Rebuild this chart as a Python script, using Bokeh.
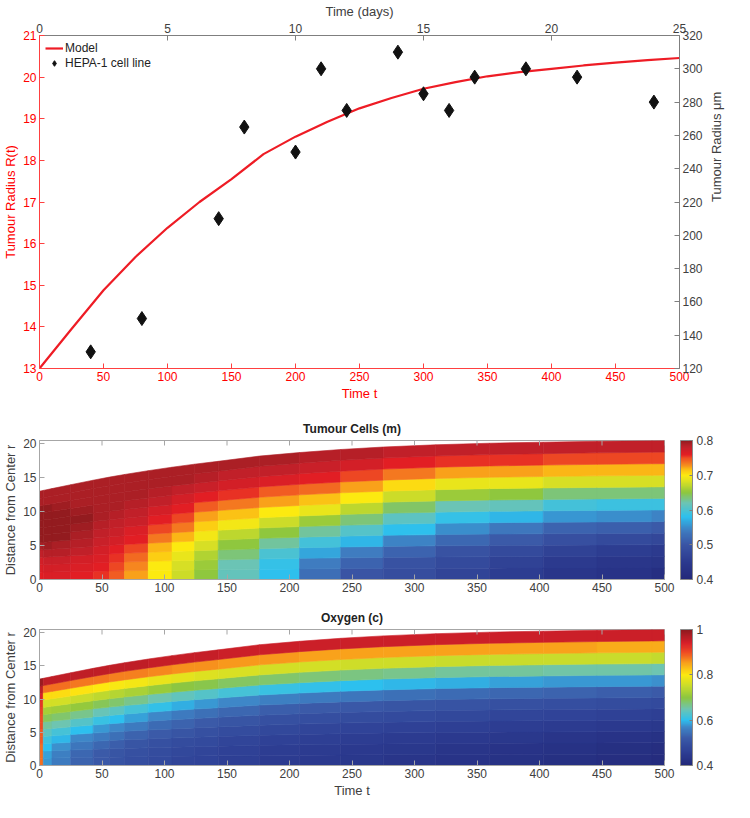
import math
import numpy as np
from bokeh.plotting import figure
from bokeh.models import (Range1d, LinearAxis, FixedTicker, Legend, LegendItem, ColorBar,
                          LinearColorMapper, ColumnDataSource, CustomJSTickFormatter)
from bokeh.embed import file_html
from bokeh.resources import INLINE

FONT = "Liberation Sans"

# ---------------- data ----------------
t_model = [0, 25, 50, 75, 100, 125, 150, 175, 200, 225, 250, 275, 300, 325, 350, 375, 400, 425, 450, 475, 500]
R_model = [13.0, 13.95, 14.88, 15.68, 16.38, 17.0, 17.55, 18.15, 18.57, 18.93, 19.25, 19.5, 19.72,
           19.88, 20.02, 20.12, 20.2, 20.28, 20.35, 20.41, 20.46]

exp_days = [2, 4, 7, 8, 10, 11, 12, 14, 15, 16, 17, 19, 21, 24]
exp_um = [130, 150, 210, 265, 250, 300, 275, 310, 285, 275, 295, 300, 295, 280]

t_ticks = [0, 50, 100, 150, 200, 250, 300, 350, 400, 450, 500]
R_ticks = [13, 14, 15, 16, 17, 18, 19, 20, 21]
day_ticks = [0, 5, 10, 15, 20, 25]
um_ticks = [120, 140, 160, 180, 200, 220, 240, 260, 280, 300, 320]
r_ticks = [0, 5, 10, 15, 20]
m_ticks = [0.4, 0.5, 0.6, 0.7, 0.8]
c_ticks = [0.4, 0.6, 0.8, 1.0]

# time columns of the solution grid
t_edges = [0, 3, 10, 25, 43, 56, 68, 87, 106, 124, 143, 176, 208, 241, 275, 317, 360, 403, 446, 490, 500]

# tumour cell fraction m, each column from centre (r=0) to edge (r=R)
m_cols = [
    [0.76, 0.765, 0.77, 0.78, 0.79, 0.80, 0.80, 0.80, 0.80, 0.80, 0.79, 0.79],
    [0.765, 0.77, 0.775, 0.785, 0.795, 0.80, 0.80, 0.80, 0.80, 0.80, 0.79, 0.79],
    [0.765, 0.77, 0.775, 0.785, 0.79, 0.80, 0.80, 0.80, 0.80, 0.795, 0.79, 0.79],
    [0.76, 0.765, 0.77, 0.78, 0.785, 0.79, 0.795, 0.80, 0.795, 0.79, 0.79, 0.79],
    [0.755, 0.76, 0.765, 0.77, 0.775, 0.78, 0.785, 0.79, 0.79, 0.79, 0.79, 0.79],
    [0.745, 0.75, 0.755, 0.76, 0.77, 0.775, 0.78, 0.785, 0.79, 0.79, 0.79, 0.79],
    [0.725, 0.73, 0.74, 0.75, 0.76, 0.765, 0.775, 0.78, 0.785, 0.79, 0.79, 0.79],
    [0.70, 0.70, 0.71, 0.72, 0.735, 0.75, 0.76, 0.77, 0.78, 0.785, 0.79, 0.79],
    [0.675, 0.68, 0.69, 0.70, 0.72, 0.735, 0.75, 0.76, 0.77, 0.78, 0.79, 0.79],
    [0.65, 0.655, 0.665, 0.68, 0.695, 0.71, 0.725, 0.745, 0.76, 0.775, 0.785, 0.79],
    [0.615, 0.62, 0.635, 0.65, 0.67, 0.695, 0.715, 0.735, 0.755, 0.77, 0.78, 0.79],
    [0.58, 0.585, 0.60, 0.625, 0.65, 0.675, 0.70, 0.725, 0.745, 0.765, 0.78, 0.79],
    [0.525, 0.54, 0.565, 0.595, 0.625, 0.655, 0.69, 0.715, 0.74, 0.76, 0.775, 0.785],
    [0.50, 0.515, 0.54, 0.575, 0.605, 0.635, 0.67, 0.70, 0.725, 0.75, 0.77, 0.785],
    [0.485, 0.495, 0.515, 0.545, 0.58, 0.61, 0.64, 0.675, 0.705, 0.735, 0.76, 0.78],
    [0.47, 0.48, 0.495, 0.52, 0.55, 0.585, 0.62, 0.655, 0.69, 0.725, 0.755, 0.78],
    [0.455, 0.465, 0.48, 0.505, 0.535, 0.575, 0.615, 0.65, 0.69, 0.725, 0.755, 0.78],
    [0.44, 0.45, 0.465, 0.49, 0.515, 0.555, 0.595, 0.635, 0.68, 0.72, 0.75, 0.78],
    [0.43, 0.44, 0.455, 0.48, 0.51, 0.55, 0.59, 0.635, 0.68, 0.72, 0.75, 0.78],
    [0.42, 0.435, 0.45, 0.475, 0.505, 0.545, 0.59, 0.635, 0.68, 0.72, 0.75, 0.78],
]

# oxygen concentration c, each column from centre (r=0) to edge (r=R)
c_cols = [
    [0.88, 0.88, 0.88, 0.89, 0.89, 0.90, 0.90, 0.91, 0.92, 0.94, 0.96, 0.99],
    [0.58, 0.585, 0.60, 0.615, 0.635, 0.66, 0.69, 0.72, 0.76, 0.81, 0.88, 0.96],
    [0.555, 0.56, 0.575, 0.595, 0.62, 0.65, 0.68, 0.715, 0.76, 0.81, 0.88, 0.96],
    [0.53, 0.535, 0.55, 0.57, 0.60, 0.63, 0.665, 0.705, 0.75, 0.805, 0.875, 0.96],
    [0.515, 0.52, 0.535, 0.555, 0.58, 0.61, 0.645, 0.69, 0.74, 0.80, 0.875, 0.96],
    [0.505, 0.51, 0.525, 0.545, 0.57, 0.60, 0.635, 0.68, 0.735, 0.795, 0.87, 0.96],
    [0.495, 0.50, 0.51, 0.53, 0.555, 0.585, 0.62, 0.665, 0.725, 0.79, 0.87, 0.96],
    [0.485, 0.49, 0.50, 0.52, 0.54, 0.57, 0.605, 0.65, 0.71, 0.78, 0.865, 0.955],
    [0.475, 0.48, 0.49, 0.51, 0.53, 0.555, 0.59, 0.64, 0.70, 0.775, 0.86, 0.955],
    [0.47, 0.475, 0.485, 0.50, 0.52, 0.545, 0.58, 0.63, 0.695, 0.77, 0.86, 0.955],
    [0.46, 0.465, 0.475, 0.49, 0.51, 0.535, 0.57, 0.62, 0.685, 0.765, 0.855, 0.95],
    [0.45, 0.455, 0.465, 0.48, 0.50, 0.525, 0.56, 0.61, 0.68, 0.76, 0.855, 0.95],
    [0.445, 0.45, 0.46, 0.475, 0.495, 0.52, 0.555, 0.605, 0.675, 0.76, 0.85, 0.95],
    [0.44, 0.445, 0.455, 0.47, 0.49, 0.515, 0.55, 0.60, 0.67, 0.755, 0.85, 0.95],
    [0.435, 0.44, 0.45, 0.465, 0.485, 0.51, 0.545, 0.595, 0.665, 0.755, 0.85, 0.95],
    [0.43, 0.435, 0.445, 0.46, 0.48, 0.505, 0.54, 0.59, 0.66, 0.75, 0.85, 0.95],
    [0.425, 0.43, 0.44, 0.455, 0.475, 0.50, 0.535, 0.585, 0.66, 0.75, 0.85, 0.95],
    [0.42, 0.425, 0.435, 0.45, 0.47, 0.495, 0.53, 0.58, 0.655, 0.75, 0.85, 0.95],
    [0.415, 0.42, 0.43, 0.445, 0.465, 0.49, 0.525, 0.58, 0.655, 0.75, 0.845, 0.95],
    [0.41, 0.415, 0.425, 0.44, 0.46, 0.485, 0.52, 0.575, 0.65, 0.745, 0.845, 0.95],
]

# ---------------- styling helpers ----------------
m_stops = [(0.40, "#23297a"), (0.45, "#2c3a8f"), (0.50, "#3a55a5"), (0.54, "#3f7cc0"),
           (0.58, "#2dc0ee"), (0.62, "#6cc4b4"), (0.65, "#8dc63f"), (0.68, "#d5df26"),
           (0.70, "#fdea10"), (0.72, "#fbb616"), (0.73, "#f6891f"), (0.75, "#ef4e23"),
           (0.76, "#e31e24"), (0.78, "#c4202a"), (0.79, "#ad1f25"), (0.80, "#931b1f")]
c_stops = [(0.40, "#23297a"), (0.46, "#2e3f95"), (0.52, "#3b5aa8"), (0.57, "#3e88c8"),
           (0.60, "#2dc0ee"), (0.65, "#6fc5b0"), (0.70, "#8dc63f"), (0.75, "#c8dc2c"),
           (0.80, "#fde910"), (0.85, "#f9a51b"), (0.90, "#ef4b24"), (0.94, "#d8202a"),
           (1.00, "#8e1a1e")]


def build_palette(stops, n=256):
    vals = [s[0] for s in stops]
    rgb = np.array([[int(c[1:3], 16), int(c[3:5], 16), int(c[5:7], 16)] for _, c in stops], float)
    out = []
    for k in range(n):
        v = vals[0] + (vals[-1] - vals[0]) * k / (n - 1)
        col = [int(round(np.interp(v, vals, rgb[:, ch]))) for ch in range(3)]
        out.append("#%02x%02x%02x" % tuple(col))
    return out


def style_axis(ax, color="#404040", line_color="#7f7f7f"):
    ax.major_label_text_font = FONT
    ax.major_label_text_font_size = "12px"
    ax.major_label_text_color = color
    ax.axis_label_text_font = FONT
    ax.axis_label_text_font_size = "13px"
    ax.axis_label_text_font_style = "normal"
    ax.axis_label_text_color = color
    ax.axis_line_color = line_color
    ax.major_tick_line_color = line_color
    ax.major_tick_in = 5
    ax.major_tick_out = 0
    ax.minor_tick_line_color = None
    ax.major_label_standoff = 3
    ax.axis_label_standoff = 2


# ---------------- top: radius vs time ----------------
p1 = figure(width=734, height=403, x_range=Range1d(0, 500), y_range=Range1d(13, 21),
            output_backend="svg", toolbar_location=None,
            min_border_left=5, min_border_right=5, min_border_top=2, min_border_bottom=12)
p1.extra_x_ranges = {"days": Range1d(0, 25)}
p1.extra_y_ranges = {"um": Range1d(120, 320)}
p1.xgrid.visible = False
p1.ygrid.visible = False
p1.outline_line_color = None

p1.xaxis.ticker = FixedTicker(ticks=t_ticks)
p1.yaxis.ticker = FixedTicker(ticks=R_ticks)
p1.xaxis.axis_label = "Time t"
p1.yaxis.axis_label = "Tumour Radius R(t)"
for ax in p1.xaxis + p1.yaxis:
    style_axis(ax, color="#ff0000", line_color="#ff4040")

ax_top = LinearAxis(x_range_name="days", axis_label="Time (days)", ticker=FixedTicker(ticks=day_ticks))
style_axis(ax_top)
p1.add_layout(ax_top, "above")
ax_right = LinearAxis(y_range_name="um", axis_label="Tumour Radius μm", ticker=FixedTicker(ticks=um_ticks))
style_axis(ax_right)
ax_right.axis_label_orientation = math.pi / 2
ax_right.axis_label_standoff = 11
p1.add_layout(ax_right, "right")

model_line = p1.line(t_model, R_model, line_color="#ee1c25", line_width=2.2)
exp_pts = p1.scatter(exp_days, exp_um, x_range_name="days", y_range_name="um", marker="diamond",
                     size=14, fill_color="#111111", line_color="#111111")

legend = Legend(items=[LegendItem(label="Model", renderers=[model_line]),
                       LegendItem(label="HEPA-1 cell line", renderers=[exp_pts])],
                location="top_left", border_line_color=None, background_fill_alpha=0,
                label_text_font=FONT, label_text_font_size="12px", label_text_color="#222222",
                glyph_width=18, glyph_height=14, label_height=14, spacing=1, padding=4, margin=6,
                label_standoff=2)
p1.add_layout(legend)


# ---------------- heat maps ----------------
def heat_source(cols):
    Re = np.interp(t_edges, t_model, R_model)
    nlev = len(cols[0])
    xi = np.linspace(0, 1, nlev + 1)
    xs, ys, vals = [], [], []
    for j, col in enumerate(cols):
        t0, t1 = t_edges[j], t_edges[j + 1]
        R0, R1 = Re[j], Re[j + 1]
        for i, v in enumerate(col):
            xs.append([t0, t1, t1, t0])
            ys.append([xi[i] * R0, xi[i] * R1, xi[i + 1] * R1, xi[i + 1] * R0])
            vals.append(v)
    return ColumnDataSource(dict(xs=xs, ys=ys, v=vals))


def heat_fig(cols, title, stops, ticks, height, xlabel, min_top, min_bottom):
    p = figure(width=734, height=height, x_range=Range1d(0, 500), y_range=Range1d(0, R_model[-1]),
               output_backend="svg", toolbar_location=None, title=title,
               min_border_left=5, min_border_right=70, min_border_top=min_top, min_border_bottom=min_bottom)
    p.xgrid.visible = False
    p.ygrid.visible = False
    p.outline_line_color = "#a6a6a6"
    p.title.align = "center"
    p.title.text_font = FONT
    p.title.text_font_size = "12px"
    p.title.text_font_style = "bold"
    p.title.text_color = "#222222"
    mapper = LinearColorMapper(palette=build_palette(stops), low=stops[0][0], high=stops[-1][0])
    src = heat_source(cols)
    p.patches("xs", "ys", source=src, fill_color={"field": "v", "transform": mapper},
              line_color={"field": "v", "transform": mapper}, line_width=0.6)
    # inward ticks along the top edge of the box
    p.scatter(t_ticks, [R_model[-1]] * len(t_ticks), marker="dash", angle=math.pi / 2, size=10,
              line_color="#a6a6a6", line_width=1)
    p.xaxis.ticker = FixedTicker(ticks=t_ticks)
    p.yaxis.ticker = FixedTicker(ticks=r_ticks)
    p.yaxis.axis_label = "Distance from Center r"
    if xlabel:
        p.xaxis.axis_label = xlabel
    for ax in p.xaxis + p.yaxis:
        style_axis(ax, color="#404040", line_color="#a6a6a6")
    cb = ColorBar(color_mapper=mapper, ticker=FixedTicker(ticks=ticks),
                  formatter=CustomJSTickFormatter(code="return String(Math.round(tick*10)/10)"),
                  width=12, padding=0, margin=0, location=(16, 0),
                  major_label_text_font=FONT, major_label_text_font_size="12px",
                  major_label_text_color="#404040", major_tick_line_color="#7f7f7f",
                  major_tick_in=3, major_tick_out=0, bar_line_color="#8a8a8a",
                  background_fill_alpha=0, border_line_color=None, label_standoff=4)
    p.add_layout(cb, "right")
    return p


p2 = heat_fig(m_cols, "Tumour Cells (m)", m_stops, m_ticks, 191, None, 37, 4)
p3 = heat_fig(c_cols, "Oxygen (c)", c_stops, c_ticks, 206, "Time t", 35, 2)

open("out.html", "w").write(file_html([p1, p2, p3], INLINE))
